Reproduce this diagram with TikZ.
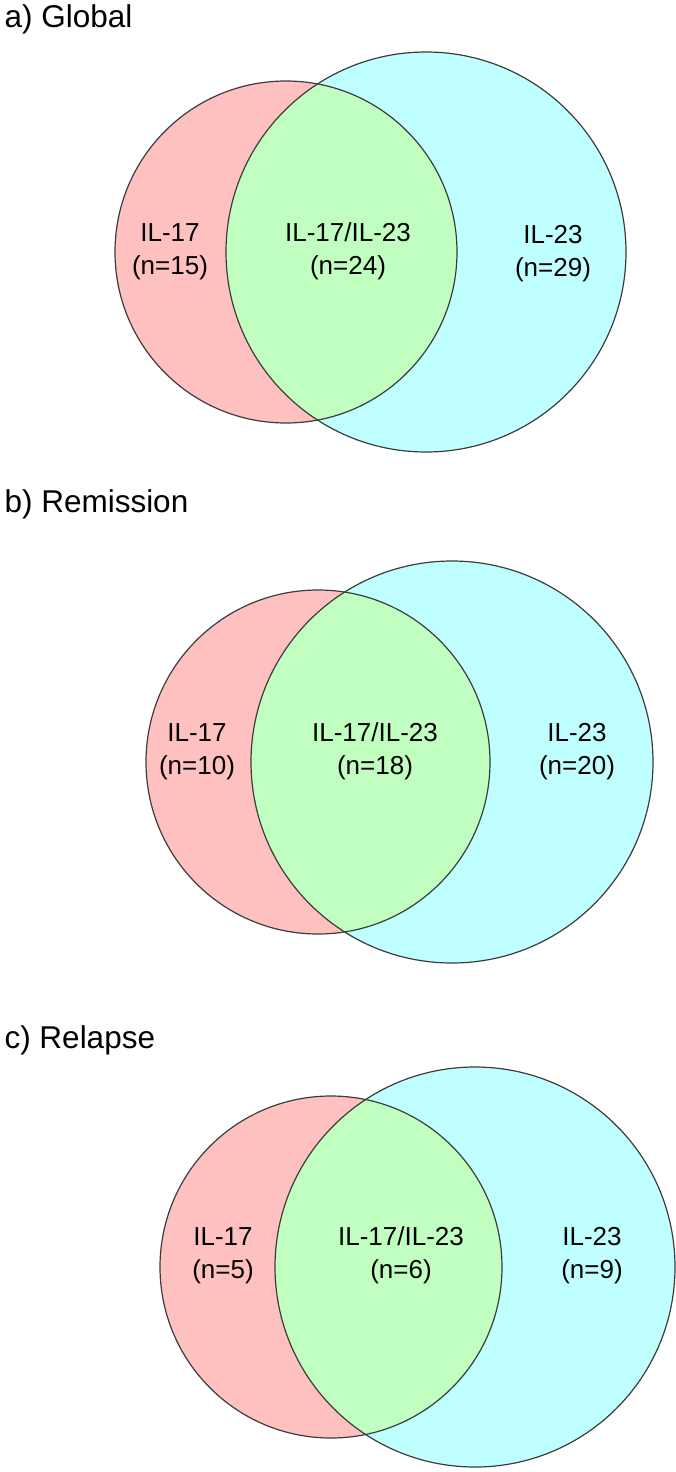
\documentclass[tikz,border=0pt]{standalone}
\usepackage{fontspec}
\setmainfont{Liberation Sans}
\definecolor{il17}{RGB}{255,192,192}
\definecolor{il23}{RGB}{192,255,255}
\definecolor{both}{RGB}{192,255,192}
\definecolor{rimc}{RGB}{60,60,60}
\begin{document}
\begin{tikzpicture}[x=1pt,y=-1pt,
  panel/.style={anchor=base west, font=\fontsize{31.5}{38}\selectfont},
  count/.style={align=center, font=\fontsize{26}{33}\selectfont},
  rim/.style={draw=rimc, line width=1.2pt}]
\useasboundingbox (0,0) rectangle (675,1472);

% a) Global
\node[panel] (ta) at (1,28) {a) Global};
\fill[il17] (286,252) circle (171);
\fill[il23] (426,252) circle (200);
\begin{scope}
  \clip (286,252) circle (171);
  \fill[both] (426,252) circle (200);
\end{scope}
\draw[rim] (286,252) circle (171);
\draw[rim] (426,252) circle (200);
\node[count] (a17) at (170,252) {IL-17\\(n=15)};
\node[count] (a1723) at (348,251) {IL-17/IL-23\\(n=24)};
\node[count] (a23) at (553,254) {IL-23\\(n=29)};

% b) Remission
\node[panel] (tb) at (1,512) {b) Remission};
\fill[il17] (318,762) circle (172);
\fill[il23] (452,762) circle (201);
\begin{scope}
  \clip (318,762) circle (172);
  \fill[both] (452,762) circle (201);
\end{scope}
\draw[rim] (318,762) circle (172);
\draw[rim] (452,762) circle (201);
\node[count] (b17) at (197,752) {IL-17\\(n=10)};
\node[count] (b1723) at (375,751) {IL-17/IL-23\\(n=18)};
\node[count] (b23) at (577,752) {IL-23\\(n=20)};

% c) Relapse
\node[panel] (tc) at (1,1048) {c) Relapse};
\fill[il17] (331,1267) circle (171);
\fill[il23] (475,1267) circle (200);
\begin{scope}
  \clip (331,1267) circle (171);
  \fill[both] (475,1267) circle (200);
\end{scope}
\draw[rim] (331,1267) circle (171);
\draw[rim] (475,1267) circle (200);
\node[count] (c17) at (223,1256) {IL-17\\(n=5)};
\node[count] (c1723) at (401,1255) {IL-17/IL-23\\(n=6)};
\node[count] (c23) at (592,1256) {IL-23\\(n=9)};
\end{tikzpicture}
\end{document}
